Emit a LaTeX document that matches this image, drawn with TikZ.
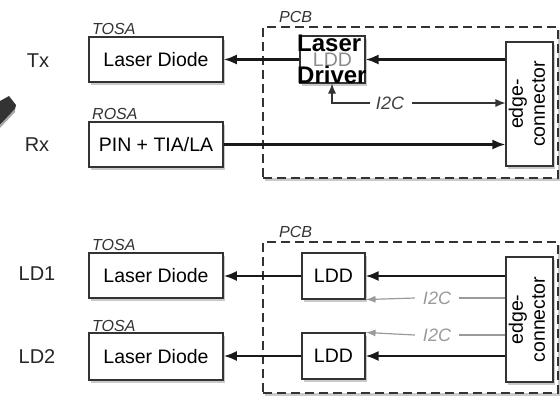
\documentclass[tikz,border=0pt]{standalone}
\usepackage{fontspec}
\setmainfont{Liberation Sans}
\usetikzlibrary{arrows.meta,shadows}
\definecolor{boxline}{HTML}{333333}
\definecolor{greyline}{HTML}{9A9A9A}
\tikzset{
  blk/.style={draw=boxline, line width=1.5pt, fill=white, inner sep=0pt,
    font=\fontsize{19.5}{22}\selectfont,
    drop shadow={shadow xshift=2pt, shadow yshift=-2.5pt, opacity=0.35, fill=black!60}},
  sidelbl/.style={font=\fontsize{20}{22}\selectfont, text=black!85},
  tag/.style={font=\fontsize{16}{18}\selectfont\itshape, text=black!80, anchor=base west, inner sep=0pt},
  pcbbox/.style={draw=boxline, fill=white, line width=2.2pt, dash pattern=on 9pt off 5pt,
    drop shadow={shadow xshift=2pt, shadow yshift=-3pt, opacity=0.35, fill=black!60}},
  sig/.style={line width=2.2pt, draw=black!90, -{Latex[length=13pt,width=10pt]}},
  ctl/.style={line width=1.1pt, draw=black!80, -{Latex[length=10pt,width=8pt]}},
  gctl/.style={line width=1.2pt, draw=greyline, -{Latex[length=10pt,width=7pt]}},
  i2clbl/.style={font=\fontsize{18}{20}\selectfont\itshape, inner sep=0pt},
  ovl/.style={font=\bfseries\fontsize{24}{30}\selectfont, anchor=base west, inner sep=0pt},
}
\begin{document}
\begin{tikzpicture}[x=1pt,y=-1pt]
\useasboundingbox (0,0) rectangle (560,397);
% partial chip at left edge
\fill[black!80] (0,101) -- (9,96) -- (16,105) -- (15,109) -- (0,125) -- cycle;
\fill[black!35] (0,125) -- (15,109) -- (15,112) -- (0,128) -- cycle;

% ---------------- top ----------------
\node[pcbbox, minimum width=295pt, minimum height=151pt, inner sep=0pt] (pcbA) at (410.5,102.5) {};
\node[tag] (pcbAl) at (279,22) {PCB};
\node[sidelbl] (tx) at (38,61) {Tx};
\node[sidelbl] (rx) at (37,145) {Rx};
\node[blk, minimum width=134pt, minimum height=45pt] (ldA) at (156,59.5) {Laser Diode};
\node[tag] (tosaA) at (92,34) {TOSA};
\node[blk, minimum width=134pt, minimum height=45pt] (rosa) at (156,144.5) {PIN + TIA/LA};
\node[tag] (rosal) at (92,119) {ROSA};
\node[blk, line width=1.1pt, minimum width=65pt, minimum height=47pt, text=black!45] (lddA) at (332.5,59.5) {LDD};
\node[blk, line width=1.1pt, minimum width=47pt, minimum height=124pt, align=center] (edgeA) at (529.5,104)
  {\rotatebox{90}{\begin{tabular}{@{}c@{}}edge-\\connector\end{tabular}}};
\node[i2clbl, text=black!75] (i2cA) at (390,103) {I2C};
\coordinate (cA) at (332,103);
\draw[sig] (edgeA.west |- lddA.east) -- (lddA.east);
\draw[sig] (lddA.west) -- (ldA.east);
\draw[ctl] (i2cA.west) ++(-6,0) -- (cA) -- (lddA.south -| cA);
\draw[ctl] (i2cA.east) ++(8,0) -- (edgeA.west |- i2cA);
\draw[sig] (rosa.east) -- (edgeA.west |- rosa.east);
% overlay text
\node[ovl] (ovl1) at (297,51) {Laser};
\node[ovl] (ovl2) at (297,83) {Driver};

% ---------------- bottom ----------------
\node[pcbbox, minimum width=295pt, minimum height=151pt, inner sep=0pt] (pcbB) at (410.5,317.5) {};
\node[tag] (pcbBl) at (279,237) {PCB};
\node[sidelbl] (ld1l) at (37,274) {LD1};
\node[sidelbl] (ld2l) at (37,357) {LD2};
\node[blk, minimum width=134pt, minimum height=45pt] (ldB) at (156,275.5) {Laser Diode};
\node[tag] (tosaB) at (92,250) {TOSA};
\node[blk, minimum width=134pt, minimum height=47pt] (ldC) at (156,356.5) {Laser Diode};
\node[tag] (tosaC) at (92,331) {TOSA};
\node[blk, line width=1.1pt, minimum width=63pt, minimum height=46pt] (lddB) at (333.5,276) {LDD};
\node[blk, line width=1.1pt, minimum width=63pt, minimum height=46pt] (lddC) at (333.5,356) {LDD};
\node[blk, line width=1.1pt, minimum width=47pt, minimum height=125pt, align=center] (edgeB) at (529.5,319.5)
  {\rotatebox{90}{\begin{tabular}{@{}c@{}}edge-\\connector\end{tabular}}};
\node[i2clbl, text=greyline] (i2cB) at (437,298) {I2C};
\node[i2clbl, text=greyline] (i2cC) at (437,335) {I2C};
\draw[sig] (edgeB.west |- lddB.east) -- (lddB.east);
\draw[sig] (lddB.west) -- (ldB.east |- lddB.west);
\draw[sig] (edgeB.west |- lddC.east) -- (lddC.east);
\draw[sig] (lddC.west) -- (ldC.east |- lddC.west);
\draw[gctl, -] (edgeB.west |- i2cB) -- ([xshift=8pt]i2cB.east);
\draw[gctl] ([xshift=-8pt]i2cB.west) -- (lddB.south east);
\draw[gctl, -] (edgeB.west |- i2cC) -- ([xshift=8pt]i2cC.east);
\draw[gctl] ([xshift=-8pt]i2cC.west) -- (lddC.north east);
\end{tikzpicture}
\end{document}
